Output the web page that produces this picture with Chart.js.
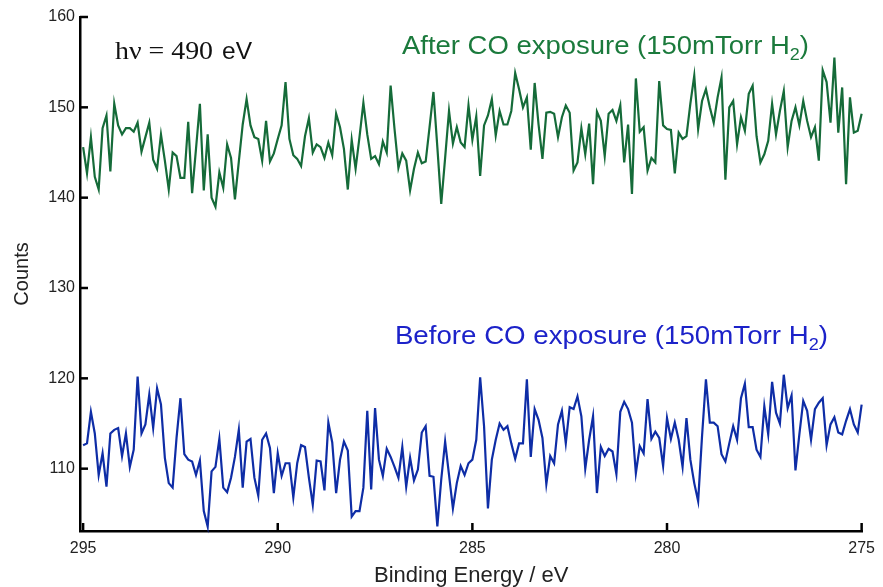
<!DOCTYPE html>
<html><head><meta charset="utf-8">
<script src="https://cdn.jsdelivr.net/npm/chart.js@4.4.1/dist/chart.umd.min.js"></script>
<style>html,body{margin:0;padding:0;background:#fff}#wrap{width:883px;height:587px;position:relative}</style>
</head><body><div id="wrap"><canvas id="c" width="883" height="587"></canvas></div>
<script>
// Binding energy grid (eV)
const energies = [
295.0,294.9,294.8,294.7,294.6,294.5,294.4,294.3,294.2,294.1,
294.0,293.9,293.8,293.7,293.6,293.5,293.4,293.3,293.2,293.1,
293.0,292.9,292.8,292.7,292.6,292.5,292.4,292.3,292.2,292.1,
292.0,291.9,291.8,291.7,291.6,291.5,291.4,291.3,291.2,291.1,
291.0,290.9,290.8,290.7,290.6,290.5,290.4,290.3,290.2,290.1,
290.0,289.9,289.8,289.7,289.6,289.5,289.4,289.3,289.2,289.1,
289.0,288.9,288.8,288.7,288.6,288.5,288.4,288.3,288.2,288.1,
288.0,287.9,287.8,287.7,287.6,287.5,287.4,287.3,287.2,287.1,
287.0,286.9,286.8,286.7,286.6,286.5,286.4,286.3,286.2,286.1,
286.0,285.9,285.8,285.7,285.6,285.5,285.4,285.3,285.2,285.1,
285.0,284.9,284.8,284.7,284.6,284.5,284.4,284.3,284.2,284.1,
284.0,283.9,283.8,283.7,283.6,283.5,283.4,283.3,283.2,283.1,
283.0,282.9,282.8,282.7,282.6,282.5,282.4,282.3,282.2,282.1,
282.0,281.9,281.8,281.7,281.6,281.5,281.4,281.3,281.2,281.1,
281.0,280.9,280.8,280.7,280.6,280.5,280.4,280.3,280.2,280.1,
280.0,279.9,279.8,279.7,279.6,279.5,279.4,279.3,279.2,279.1,
279.0,278.9,278.8,278.7,278.6,278.5,278.4,278.3,278.2,278.1,
278.0,277.9,277.8,277.7,277.6,277.5,277.4,277.3,277.2,277.1,
277.0,276.9,276.8,276.7,276.6,276.5,276.4,276.3,276.2,276.1,
276.0,275.9,275.8,275.7,275.6,275.5,275.4,275.3,275.2,275.1,
275.0];

// After CO exposure (green)
const afterCO = [
145.6,142.7,146.7,142.3,140.9,147.7,149.1,142.9,150.4,148.0,
147.0,147.7,147.7,147.3,148.3,145.1,146.7,148.3,144.2,143.2,
147.0,144.1,140.9,145.0,144.6,142.2,142.2,148.4,140.5,145.4,
150.4,140.8,147.0,140.0,139.0,142.8,141.1,145.9,144.4,139.8,
144.0,148.1,150.9,148.0,146.7,146.5,144.1,148.5,144.0,144.9,
146.5,148.0,152.8,146.5,144.7,144.3,143.5,146.8,148.8,145.0,
145.9,145.6,144.4,146.1,144.7,149.3,147.8,145.4,140.9,146.4,
143.2,146.7,150.5,147.0,144.3,144.6,143.7,146.2,145.0,152.4,
147.6,143.3,144.9,144.1,140.8,143.2,145.0,143.8,144.0,147.8,
151.7,145.6,139.3,144.4,149.6,146.0,147.8,146.1,145.6,150.2,
146.4,149.0,142.4,148.0,149.1,150.9,146.9,149.6,148.1,148.1,
149.6,153.8,152.0,150.0,151.1,145.3,152.7,148.1,144.3,149.4,
149.5,149.3,146.7,148.9,150.2,149.4,143.0,143.9,147.7,144.8,
148.2,141.5,149.5,148.5,144.6,149.3,149.7,148.5,150.2,143.9,
148.1,140.4,153.2,147.3,147.8,143.0,144.4,143.9,152.9,148.0,
147.6,147.5,142.7,147.2,146.5,146.8,150.4,153.5,147.6,150.7,
152.0,150.0,148.3,151.1,153.3,142.0,150.0,150.7,145.9,148.9,
147.4,151.5,152.4,146.8,143.9,144.8,146.3,150.4,147.0,149.6,
151.8,145.6,148.5,150.0,148.0,150.7,148.5,146.7,147.8,144.1,
154.1,152.8,148.3,155.5,147.2,152.2,141.5,151.1,147.2,147.4,
149.3];

// Before CO exposure (blue)
const beforeCO = [
112.6,112.8,116.3,113.9,109.3,111.7,108.0,113.9,114.3,114.5,
111.4,113.9,110.2,112.1,120.2,113.9,114.9,118.2,114.5,118.9,
117.1,111.2,108.4,107.9,113.4,117.8,111.6,111.0,110.8,109.3,
110.9,105.3,103.6,109.7,110.2,113.3,107.9,107.4,109.0,111.3,
114.3,107.9,113.0,113.3,109.0,107.0,113.2,113.9,112.3,107.3,
111.7,109.2,110.6,110.6,106.8,110.6,112.6,112.4,109.0,106.0,
110.9,110.8,107.6,115.1,112.9,107.3,111.0,113.0,112.0,104.7,
105.3,105.3,107.9,116.4,107.7,116.7,111.0,109.2,112.2,111.3,
110.2,109.0,112.4,108.0,111.2,108.7,109.9,114.0,114.7,109.2,
109.1,103.6,108.8,113.0,109.3,105.6,108.4,110.3,109.3,110.6,
111.0,113.2,120.1,114.7,105.6,111.0,113.2,115.0,114.3,114.7,
112.8,111.1,112.8,112.8,119.9,111.3,116.6,115.4,113.4,108.3,
111.4,110.6,114.9,116.4,112.8,116.8,116.6,118.0,115.8,110.0,
113.2,115.8,107.3,112.4,111.4,112.2,111.9,109.4,116.3,117.4,
116.6,115.1,109.5,112.5,111.7,117.7,113.3,114.1,113.4,110.3,
115.6,113.3,115.1,113.2,110.2,115.6,111.0,108.4,106.4,113.6,
119.9,115.1,115.1,114.7,111.6,110.8,112.8,114.7,113.2,117.8,
119.4,114.6,114.6,112.1,111.3,116.9,113.8,119.6,116.2,115.0,
120.4,116.7,118.1,109.8,113.8,117.5,116.4,113.2,116.6,117.3,
117.8,112.6,114.9,115.7,114.0,113.8,115.3,116.6,114.9,114.0,
117.1];

const xTicks = [295, 290, 285, 280, 275];
const yTicks = [110, 120, 130, 140, 150, 160];
const seriesNames = ['After CO exposure (150mTorr H', 'Before CO exposure (150mTorr H'];
const photonLabel = ['h\u03BD = 490', 'eV'];

const GREEN_LINE = '#156b39', GREEN_TEXT = '#1b7a3c';
const BLUE_LINE = '#0e2da6', BLUE_TEXT = '#1c22c9';

function fitText(ctx, parts, x, y, targetW) {
  let w = 0;
  parts.forEach(p => { ctx.font = p.font; p.w = ctx.measureText(p.text).width; w += p.w; });
  const sx = targetW / w;
  ctx.save();
  ctx.translate(x, y);
  ctx.scale(sx, 1);
  ctx.textBaseline = 'alphabetic';
  ctx.textAlign = 'left';
  let cx = 0;
  parts.forEach(p => {
    ctx.font = p.font; ctx.fillStyle = p.color;
    ctx.fillText(p.text, cx, p.dy || 0);
    cx += p.w;
  });
  ctx.restore();
}

const decor = {
  id: 'decor',
  afterDraw(chart) {
    const { ctx, chartArea: a, scales: { x, y } } = chart;
    ctx.save();
    ctx.strokeStyle = '#000';
    ctx.lineWidth = 2.5;
    x.ticks.forEach(t => {
      const px = x.getPixelForValue(t.value);
      ctx.beginPath(); ctx.moveTo(px, a.bottom); ctx.lineTo(px, a.bottom - 8); ctx.stroke();
    });
    y.ticks.forEach(t => {
      const py = y.getPixelForValue(t.value);
      ctx.beginPath(); ctx.moveTo(a.left, py); ctx.lineTo(a.left + 8, py); ctx.stroke();
    });
    ctx.restore();

    const sans = 'Liberation Sans, Arial, sans-serif';
    // photon energy label
    fitText(ctx, [{ text: photonLabel[0], font: '26px Liberation Serif, Times New Roman, serif', color: '#111' }],
      x.getPixelForValue(294.18), y.getPixelForValue(155.3), 98);
    fitText(ctx, [{ text: photonLabel[1], font: '23px ' + sans, color: '#111' }],
      x.getPixelForValue(291.43), y.getPixelForValue(155.3), 30);
    // series labels
    fitText(ctx, [
      { text: seriesNames[0], font: '26px ' + sans, color: GREEN_TEXT },
      { text: '2', font: '17px ' + sans, color: GREEN_TEXT, dy: 6 },
      { text: ')', font: '26px ' + sans, color: GREEN_TEXT }
    ], x.getPixelForValue(286.81), y.getPixelForValue(155.85), 407);
    fitText(ctx, [
      { text: seriesNames[1], font: '26px ' + sans, color: BLUE_TEXT },
      { text: '2', font: '17px ' + sans, color: BLUE_TEXT, dy: 6 },
      { text: ')', font: '26px ' + sans, color: BLUE_TEXT }
    ], x.getPixelForValue(286.99), y.getPixelForValue(123.84), 433);
  }
};

const toPts = vals => energies.map((e, i) => ({ x: e, y: vals[i] }));

new Chart(document.getElementById('c'), {
  type: 'line',
  data: {
    datasets: [
      { label: 'After CO exposure', data: toPts(afterCO), borderColor: GREEN_LINE, borderWidth: 2.2, pointRadius: 0, tension: 0, clip: false },
      { label: 'Before CO exposure', data: toPts(beforeCO), borderColor: BLUE_LINE, borderWidth: 2.2, pointRadius: 0, tension: 0, clip: false }
    ]
  },
  options: {
    responsive: false,
    devicePixelRatio: 1,
    animation: false,
    layout: { padding: { left: 0, right: 15, top: 17, bottom: 0 } },
    plugins: { legend: { display: false }, tooltip: { enabled: false } },
    scales: {
      x: {
        type: 'linear', reverse: true, min: 274.98, max: 295.08,
        afterBuildTicks: s => { s.ticks = xTicks.map(v => ({ value: v })); },
        afterFit: s => { s.height = 56; },
        grid: { display: false, drawTicks: false },
        border: { display: true, color: '#000', width: 2.5 },
        ticks: { color: '#222', padding: 8, font: { family: 'Liberation Sans, Arial', size: 16 }, maxRotation: 0, callback: v => String(v) },
        title: { display: true, text: 'Binding Energy / eV', color: '#222', font: { family: 'Liberation Sans, Arial', size: 22 }, padding: { top: 0, bottom: -2 } }
      },
      y: {
        type: 'linear', min: 103.1, max: 160,
        afterBuildTicks: s => { s.ticks = yTicks.map(v => ({ value: v })); },
        afterFit: s => { s.width = 80; },
        grid: { display: false, drawTicks: false },
        border: { display: true, color: '#000', width: 2.5 },
        ticks: { color: '#222', padding: 5, font: { family: 'Liberation Sans, Arial', size: 16 }, callback: v => String(v) },
        title: { display: true, text: 'Counts', color: '#222', font: { family: 'Liberation Sans, Arial', size: 20 }, padding: { top: 10, bottom: 0 } }
      }
    }
  },
  plugins: [decor]
});
</script>
</body></html>
